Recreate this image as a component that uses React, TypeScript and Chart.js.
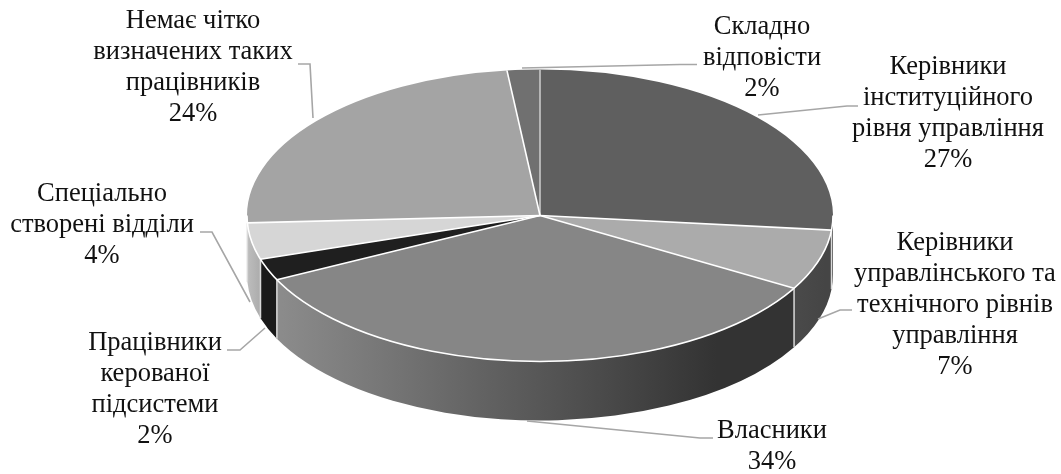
import React, { useEffect, useRef } from "react";
import { Chart, registerables } from "chart.js";

Chart.register(...registerables);

const categories = [
  ["Керівники", "інституційного", "рівня управління"],
  ["Керівники", "управлінського та", "технічного рівнів", "управління"],
  ["Власники"],
  ["Працівники", "керованої", "підсистеми"],
  ["Спеціально", "створені відділи"],
  ["Немає чітко", "визначених таких", "працівників"],
  ["Складно", "відповісти"],
];
const percentLabels = ["27%", "7%", "34%", "2%", "4%", "24%", "2%"];
const shares = [26.6, 6.7, 34.45, 2.4, 4.05, 24, 1.8];
const topColors = ["#5f5f5f", "#ababab", "#868686", "#1f1f1f", "#d6d6d6", "#a4a4a4", "#707070"];
const wallFrom = ["#4c4c4c", "#4a4a4a", "#8c8c8c", "#1a1a1a", "#bdbdbd", "#8a8a8a", "#5c5c5c"];
const wallTo = ["#4c4c4c", "#454545", "#333333", "#1a1a1a", "#aeaeae", "#8a8a8a", "#5c5c5c"];
const labelCenters: [number, number][] = [
  [948, 67], [955, 243], [772, 431], [155, 343], [102, 194], [193, 21], [762, 27],
];
const leaders: [number, number][][] = [
  [[758, 115], [847, 106], [858, 106]],
  [[818, 319], [840, 310], [852, 310]],
  [[527, 421], [700, 438], [713, 438]],
  [[265, 328], [240, 350], [227, 350]],
  [[250, 302], [212, 232], [200, 232]],
  [[313, 118], [310, 64], [298, 64]],
  [[522, 68], [680, 64.5], [697, 64.5]],
];

const CX = 540, CY = 215.5, RX = 293, RY = 146, DEPTH = 59, R = 146;
const LINE = 31;

const pie3d = {
  id: "pie3d",
  beforeDatasetDraw(chart: any) {
    const c = chart.ctx;
    const arcs = chart.getDatasetMeta(0).data;
    arcs.forEach((a: any, i: number) => {
      const s = Math.max(a.startAngle, 0), e = Math.min(a.endAngle, Math.PI);
      if (e <= s) return;
      const x0 = CX + RX * Math.cos(s), x1 = CX + RX * Math.cos(e);
      const g = c.createLinearGradient(Math.max(x0, x1), 0, Math.min(x0, x1), 0);
      g.addColorStop(0, wallTo[i]);
      g.addColorStop(0.15, wallTo[i]);
      g.addColorStop(1, wallFrom[i]);
      c.save();
      c.beginPath();
      c.ellipse(CX, CY, RX, RY, 0, s, e);
      c.ellipse(CX, CY + DEPTH, RX, RY, 0, e, s, true);
      c.closePath();
      c.fillStyle = g;
      c.fill();
      c.restore();
    });
    c.save();
    c.strokeStyle = "#d9d9d9";
    c.lineWidth = 1.5;
    arcs.forEach((a: any) => {
      const t = a.endAngle;
      if (t > 0 && t < Math.PI) {
        const x = CX + RX * Math.cos(t), y = CY + RY * Math.sin(t);
        c.beginPath();
        c.moveTo(x, y);
        c.lineTo(x, y + DEPTH);
        c.stroke();
      }
    });
    c.restore();
    const first = arcs[0];
    c.save();
    c.translate(CX, CY);
    c.scale(RX / R, RY / R);
    c.translate(-first.x, -first.y);
  },
  afterDatasetDraw(chart: any) {
    const c = chart.ctx;
    c.restore();
    const arcs = chart.getDatasetMeta(0).data;
    c.save();
    c.lineWidth = 1.6;
    arcs.forEach((a: any, i: number) => {
      c.strokeStyle = i === 0 ? "#c8c8c8" : "#ffffff";
      c.beginPath();
      c.moveTo(CX, CY);
      c.lineTo(CX + RX * Math.cos(a.startAngle), CY + RY * Math.sin(a.startAngle));
      c.stroke();
    });
    c.strokeStyle = "#ffffff";
    c.beginPath();
    c.ellipse(CX, CY, RX, RY, 0, 0, Math.PI);
    c.stroke();
    c.restore();
  },
  afterDraw(chart: any) {
    const c = chart.ctx;
    c.save();
    c.strokeStyle = "#a6a6a6";
    c.lineWidth = 1.6;
    leaders.forEach((pts) => {
      c.beginPath();
      pts.forEach(([x, y], j) => (j ? c.lineTo(x, y) : c.moveTo(x, y)));
      c.stroke();
    });
    c.fillStyle = "#111";
    c.font = "26.5px 'Liberation Serif'";
    c.textAlign = "center";
    c.textBaseline = "middle";
    categories.forEach((lines, i) => {
      const [x, y] = labelCenters[i];
      [...lines, percentLabels[i]].forEach((t, j) => c.fillText(t, x, y + j * LINE));
    });
    c.restore();
  },
};

export default function App() {
  const ref = useRef<HTMLCanvasElement>(null);
  useEffect(() => {
    const chart = new Chart(ref.current!, {
      type: "pie",
      data: {
        labels: categories.map((l) => l.join(" ")),
        datasets: [{
          data: shares,
          backgroundColor: topColors,
          borderWidth: 0,
          radius: R,
          clip: false,
        } as any],
      },
      options: {
        responsive: false,
        animation: false,
        plugins: { legend: { display: false }, tooltip: { enabled: false } },
      },
      plugins: [pie3d],
    });
    return () => chart.destroy();
  }, []);
  return (
    <div style={{ position: "fixed", left: 0, top: 0, width: 1061, height: 474, background: "#fff" }}>
      <canvas ref={ref} width={1061} height={474} style={{ display: "block" }} />
    </div>
  );
}
